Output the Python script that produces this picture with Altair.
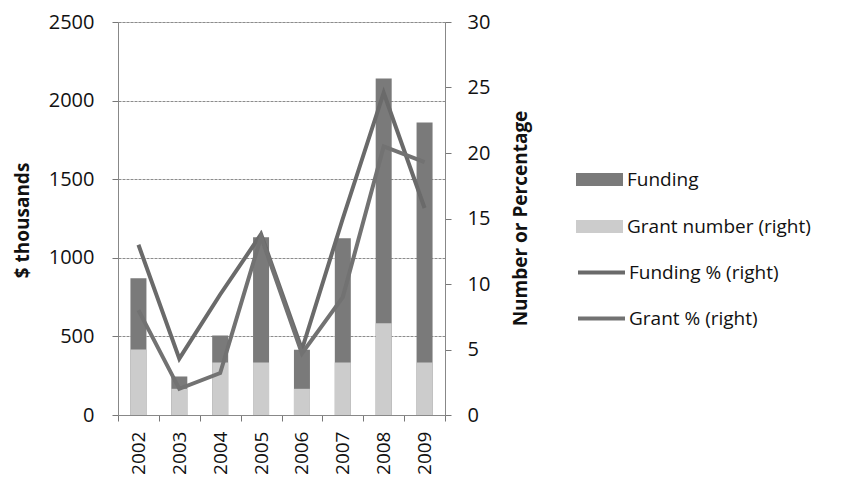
import altair as alt
import pandas as pd

years = ["2002", "2003", "2004", "2005", "2006", "2007", "2008", "2009"]
funding = [870, 245, 505, 1130, 415, 1125, 2140, 1860]
grant_number = [5, 2, 4, 4, 2, 4, 7, 4]
funding_pct = [13.0, 4.3, 9.2, 13.8, 5.0, 15.0, 24.6, 15.8]
grant_pct = [8.0, 2.0, 3.2, 13.6, 4.7, 9.0, 20.5, 19.3]

bar_series = ["Funding", "Grant number (right)"]
line_series = ["Funding % (right)", "Grant % (right)"]

FONT = "Open Sans"

fund_df = pd.DataFrame({"year": years, "value": funding, "series": bar_series[0]})
grant_df = pd.DataFrame({"year": years, "value": grant_number, "series": bar_series[1]})
lines_df = pd.DataFrame({
    "year": years * 2,
    "series": [line_series[0]] * len(years) + [line_series[1]] * len(years),
    "value": funding_pct + grant_pct,
})

x_enc = alt.X(
    "year:O",
    sort=years,
    title=None,
    scale=alt.Scale(paddingInner=0, paddingOuter=0),
    axis=alt.Axis(
        labelAngle=270, labelAlign="right", labelBaseline="middle",
        labelFontSize=19, labelFont=FONT, labelColor="#111", labelPadding=10,
        tickBand="extent", tickSize=6, tickColor="#777",
        domainColor="#888", grid=False,
    ),
)

fill_scale = alt.Scale(domain=bar_series, range=["#7a7a7a", "#cccccc"])
stroke_scale = alt.Scale(domain=line_series, range=["#6a6a6a", "#727272"])

rect_path = "M-1,-0.28H1V0.28H-1Z"

fill_legend = alt.Legend(
    orient="none", legendX=458, legendY=134, title=None,
    symbolType=rect_path, symbolSize=2209, symbolStrokeWidth=0,
    labelFont=FONT, labelFontSize=19, labelColor="#111",
    labelOffset=4, rowPadding=13, labelLimit=400,
)

fund_bar = alt.Chart(fund_df).mark_bar(size=16).encode(
    x=x_enc,
    y=alt.Y(
        "value:Q",
        scale=alt.Scale(domain=[0, 2500], nice=False),
        title="$ thousands",
        axis=alt.Axis(
            orient="left", values=[0, 500, 1000, 1500, 2000, 2500], format="d",
            grid=True, gridColor="#8c8c8c", gridDash=[3, 1], gridWidth=1,
            labelFontSize=20, labelFont=FONT, labelColor="#111", labelPadding=18,
            tickSize=6, tickColor="#777", domainColor="#888",
            titleFont=FONT, titleFontSize=19, titleFontWeight="bold",
            titleColor="#111", titleX=-96, titleY=198, titleAlign="center",
            titleBaseline="middle", titleAngle=270,
        ),
    ),
    fill=alt.Fill("series:N", scale=fill_scale, legend=fill_legend),
)

grant_bar = alt.Chart(grant_df).mark_bar(size=16).encode(
    x=x_enc,
    y=alt.Y(
        "value:Q",
        scale=alt.Scale(domain=[0, 30], nice=False),
        title="Number or Percentage",
        axis=alt.Axis(
            orient="right", values=[0, 5, 10, 15, 20, 25, 30], grid=False,
            labelFontSize=20, labelFont=FONT, labelColor="#111", labelPadding=16,
            tickSize=6, tickColor="#777", domainColor="#888",
            titleFont=FONT, titleFontSize=19, titleFontWeight="bold",
            titleColor="#111", titleX=75, titleY=196, titleAlign="center",
            titleBaseline="middle", titleAngle=270,
        ),
    ),
    fill=alt.Fill("series:N", scale=fill_scale, legend=fill_legend),
)

line_layer = alt.Chart(lines_df).mark_line(strokeWidth=4).encode(
    x=x_enc,
    y=alt.Y("value:Q", scale=alt.Scale(domain=[0, 30], nice=False)),
    stroke=alt.Stroke(
        "series:N", scale=stroke_scale,
        legend=alt.Legend(
            orient="none", legendX=458, legendY=225, title=None,
            symbolType="stroke", symbolSize=2209, symbolStrokeWidth=4,
            labelFont=FONT, labelFontSize=19, labelColor="#111",
            labelOffset=2, rowPadding=10, labelLimit=400,
        ),
    ),
)

right_layer = alt.layer(grant_bar, line_layer)

chart = alt.layer(fund_bar, right_layer).resolve_scale(
    y="independent"
).properties(
    width=327,
    height=393,
    autosize=alt.AutoSizeParams(type="none"),
    padding={"left": 110, "top": 14, "right": 390, "bottom": 66},
).configure_view(stroke=None).configure(background="white")

chart.save("out.html", embed_options={"renderer": "svg", "actions": False})
